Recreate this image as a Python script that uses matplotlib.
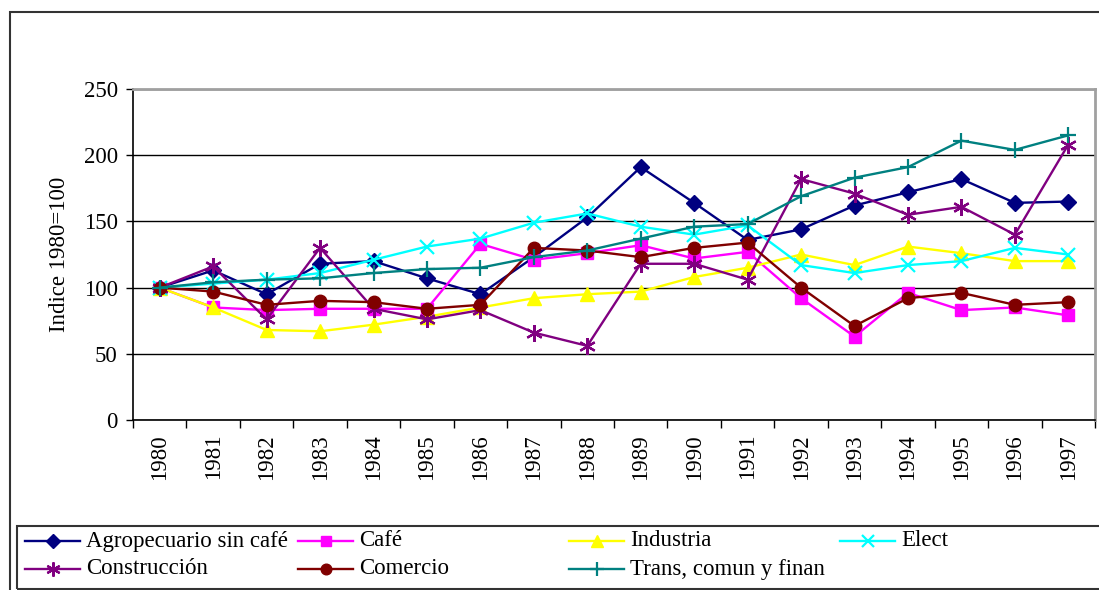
import matplotlib.pyplot as plt
from matplotlib.lines import Line2D
from matplotlib.patches import Rectangle
import numpy as np

plt.rcParams['font.family'] = ['Liberation Serif', 'DejaVu Serif']

years = list(range(1980, 1998))

agro = [100, 113, 95, 118, 120, 107, 95, 123, 153, 191, 164, 136, 144, 162, 172, 182, 164, 165]
cafe = [100, 85, 83, 84, 84, 84, 133, 121, 126, 132, 122, 127, 92, 63, 96, 83, 85, 79]
industria = [100, 85, 68, 67, 72, 78, 85, 92, 95, 97, 108, 115, 125, 117, 131, 126, 120, 120]
elect = [100, 103, 106, 111, 121, 131, 137, 149, 156, 146, 140, 147, 117, 111, 117, 120, 130, 125]
construccion = [100, 116, 76, 130, 84, 76, 83, 66, 56, 118, 118, 106, 182, 171, 155, 161, 140, 208]
comercio = [100, 97, 87, 90, 89, 84, 87, 130, 128, 123, 130, 134, 100, 71, 92, 96, 87, 89]
trans = [100, 104, 106, 107, 111, 114, 115, 123, 128, 137, 146, 148, 169, 183, 191, 211, 204, 215]

series = [
    ("Agropecuario sin café", agro, "#000080", "D", 8),
    ("Café", cafe, "#FF00FF", "s", 8),
    ("Industria", industria, "#FFFF00", "^", 9.5),
    ("Elect", elect, "#00FFFF", "x", 10),
    ("Construcción", construccion, "#800080", (6, 2, 0), 12),
    ("Comercio", comercio, "#800000", "o", 9),
    ("Trans, comun y finan", trans, "#008080", "+", 12),
]

fig = plt.figure(figsize=(10.99, 5.90), dpi=100)
W, H = 1099, 590

# outer chart frame
fig.patches.append(Rectangle((10 / W, 1 - 600 / H), 1100 / W, 588 / H,
                             transform=fig.transFigure, fill=False,
                             edgecolor="#333333", linewidth=1.5))

ax = fig.add_axes([133 / W, 1 - 420 / H, (1095 - 133) / W, (420 - 89) / H])
x = np.arange(len(years))

for label, vals, color, marker, ms in series:
    mew = 1.6 if marker in ("x", "+") or isinstance(marker, tuple) else 1.0
    ax.plot(x, vals, color=color, linewidth=1.7, marker=marker, markersize=ms,
            markerfacecolor=color, markeredgecolor=color, markeredgewidth=mew,
            clip_on=False)

ax.set_xlim(-0.5, len(years) - 0.5)
ax.set_ylim(0, 250)
ax.set_yticks(range(0, 251, 50))
ax.set_xticks(x)
ax.set_xticklabels([str(y) for y in years], rotation=90, fontsize=16.5)
ax.set_xticks(np.arange(-0.5, len(years), 1), minor=True)
ax.tick_params(axis="x", which="major", length=0, pad=10)
ax.tick_params(axis="x", which="minor", length=6, direction="out", width=1)
ax.tick_params(axis="y", length=5, direction="out", width=1, labelsize=16.5, pad=6)
ax.yaxis.grid(True, color="black", linewidth=1)
ax.set_axisbelow(True)

ax.spines["top"].set_color("#a0a0a0")
ax.spines["right"].set_color("#a0a0a0")
ax.spines["top"].set_linewidth(2)
ax.spines["right"].set_linewidth(2)
ax.spines["left"].set_linewidth(1.2)
ax.spines["bottom"].set_linewidth(1.2)

ax.set_ylabel("Indice 1980=100", fontsize=16.5, labelpad=10)

# legend box
fig.patches.append(Rectangle((17 / W, 1 - 589 / H), 1090 / W, 63 / H,
                             transform=fig.transFigure, fill=False,
                             edgecolor="#333333", linewidth=1.5))
col_x = [25, 298, 569, 840]
row_y = [541, 569]
for i, (label, vals, color, marker, ms) in enumerate(series):
    cx = col_x[i % 4]
    cy = row_y[i // 4]
    mew = 1.6 if marker in ("x", "+") or isinstance(marker, tuple) else 1.0
    fig.add_artist(Line2D([cx / W, (cx + 55) / W], [1 - cy / H, 1 - cy / H],
                          transform=fig.transFigure, color=color, linewidth=1.7))
    fig.add_artist(Line2D([(cx + 27.5) / W], [1 - cy / H], transform=fig.transFigure,
                          marker=marker, markersize=ms * 0.85, color=color,
                          markerfacecolor=color, markeredgecolor=color,
                          markeredgewidth=mew, linestyle="none"))
    fig.text((cx + 61) / W, 1 - cy / H, label, fontsize=16.5, va="center", ha="left")

fig.savefig("out.png", dpi=100)
